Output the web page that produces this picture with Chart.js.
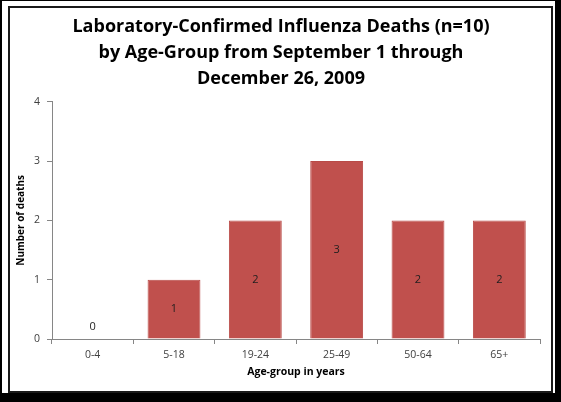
<!DOCTYPE html>
<html lang="en">
<head>
<meta charset="UTF-8">
<title>Laboratory-Confirmed Influenza Deaths</title>
<script src="https://cdn.jsdelivr.net/npm/chart.js"></script>
<style>
  * { margin:0; padding:0; box-sizing:border-box; }
  html, body { width:561px; height:402px; background:#000; overflow:hidden; }
  .sheet { position:absolute; left:2px; top:1px; width:553px; height:392px; background:#fff; }
  .frame { position:absolute; left:8px; top:6px; width:545px; height:387px; border:2px solid #1a1a1a; }
  #chart { position:absolute; left:0; top:0; }
</style>
</head>
<body>
<div class="sheet"></div>
<div class="frame"></div>
<canvas id="chart" width="561" height="402"></canvas>
<script>
  // datos
  const ageGroups = ['0-4', '5-18', '19-24', '25-49', '50-64', '65+'];
  const deaths = [0, 1, 2, 3, 2, 2];
  const yTicks = [0, 1, 2, 3, 4];
  const titleLines = [
    'Laboratory-Confirmed Influenza Deaths (n=10)',
    'by Age-Group from September 1 through',
    'December 26, 2009'
  ];

  const FONT = "'Open Sans', 'Noto Sans', sans-serif";

  // etiquetas de valor dentro de cada barra
  const barLabels = {
    id: 'barLabels',
    afterDatasetsDraw(chart) {
      const { ctx } = chart;
      const meta = chart.getDatasetMeta(0);
      ctx.save();
      ctx.font = '11px ' + FONT;
      ctx.fillStyle = '#1e1e1e';
      ctx.textAlign = 'center';
      ctx.textBaseline = 'middle';
      meta.data.forEach((bar, i) => {
        const v = deaths[i];
        const y = v === 0 ? bar.base - 12 : (bar.y + bar.base) / 2;
        ctx.fillText(String(v), bar.x, y);
      });
      ctx.restore();
    }
  };

  new Chart(document.getElementById('chart'), {
    type: 'bar',
    data: {
      labels: ageGroups,
      datasets: [{
        data: deaths,
        backgroundColor: '#c0504d',
        borderColor: '#b84a47',
        borderWidth: 1,
        barPercentage: 0.65,
        categoryPercentage: 1
      }]
    },
    options: {
      responsive: false,
      animation: false,
      devicePixelRatio: 1,
      // left un poco mayor para centrar el titulo como en el original
      layout: { padding: { left: 22, right: 21, top: 8, bottom: 22 } },
      plugins: {
        legend: { display: false },
        tooltip: { enabled: false },
        title: {
          display: true,
          text: titleLines,
          color: '#000',
          font: { family: FONT, size: 18, weight: 'bold', lineHeight: 1.44 },
          padding: { top: 6, bottom: 10 }
        }
      },
      scales: {
        x: {
          grid: { display: true, drawOnChartArea: false, color: '#868686', tickLength: 5, offset: true },
          border: { color: '#868686' },
          ticks: { color: '#404040', font: { family: FONT, size: 10.5 }, padding: 5 },
          title: {
            display: true,
            text: 'Age-group in years',
            color: '#000',
            font: { family: FONT, size: 10.5, weight: 'bold' },
            padding: { top: 2, bottom: 2 }
          },
          afterFit: s => { s.height = 41; }
        },
        y: {
          min: 0,
          max: 4,
          afterBuildTicks: s => { s.ticks = yTicks.map(v => ({ value: v })); },
          grid: { display: true, drawOnChartArea: false, color: '#868686', tickLength: 5 },
          border: { color: '#868686' },
          ticks: { color: '#404040', font: { family: FONT, size: 10.5 }, padding: 7 },
          title: {
            display: true,
            text: 'Number of deaths',
            color: '#000',
            font: { family: FONT, size: 10, weight: 'bold' },
            padding: { top: -7, bottom: 2 }
          },
          afterFit: s => { s.width = 30; }
        }
      }
    },
    plugins: [barLabels]
  });
</script>
</body>
</html>
